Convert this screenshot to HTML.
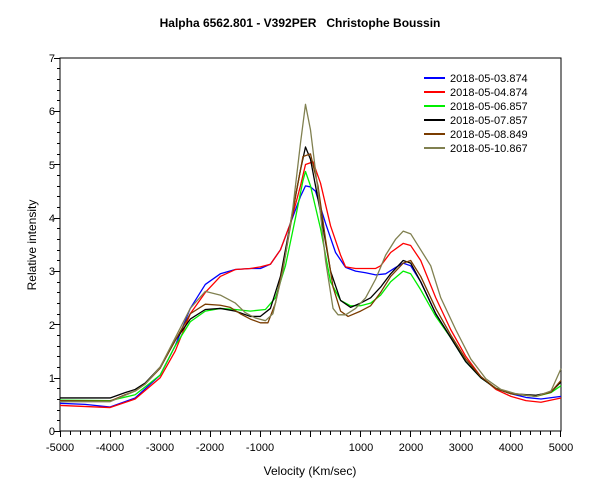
<!DOCTYPE html>
<html><head><meta charset="utf-8"><style>
html,body{margin:0;padding:0;background:#fff;}
svg{display:block;font-family:"Liberation Sans",Arial,sans-serif;}
</style></head><body>
<svg width="600" height="500" viewBox="0 0 600 500">
<rect width="600" height="500" fill="#fff"/>
<text x="300" y="27" font-size="12" font-weight="bold" text-anchor="middle" style="white-space:pre">Halpha 6562.801 - V392PER   Christophe Boussin</text>
<rect x="60" y="58" width="501" height="373" fill="none" stroke="#000" stroke-width="1"/>
<g font-size="11" text-anchor="end">
<text x="55" y="435">0</text><text x="55" y="382">1</text><text x="55" y="329">2</text><text x="55" y="275">3</text><text x="55" y="222">4</text><text x="55" y="169">5</text><text x="55" y="115">6</text><text x="55" y="62">7</text>
</g>
<g font-size="11" text-anchor="middle">
<text x="60" y="451">-5000</text><text x="110" y="451">-4000</text><text x="160" y="451">-3000</text><text x="210" y="451">-2000</text><text x="260" y="451">-1000</text><text x="361" y="451">1000</text><text x="411" y="451">2000</text><text x="461" y="451">3000</text><text x="511" y="451">4000</text><text x="561" y="451">5000</text>
</g>
<text x="310" y="475" font-size="12" text-anchor="middle">Velocity (Km/sec)</text>
<text transform="translate(36,245) rotate(-90)" font-size="12" text-anchor="middle">Relative intensity</text>
<g transform="translate(60,431) scale(0.0501,-53.29) translate(5000,0)" fill="none" stroke-width="1.3" stroke-linejoin="round">
<polyline vector-effect="non-scaling-stroke" stroke="#0000ff" points="-5000,0.52 -4500,0.5 -4000,0.45 -3500,0.62 -3000,1.05 -2700,1.6 -2400,2.3 -2100,2.75 -1800,2.95 -1500,3.03 -1200,3.05 -1000,3.05 -800,3.13 -600,3.4 -400,3.9 -200,4.4 -100,4.6 0,4.58 100,4.5 300,3.9 500,3.35 700,3.07 900,3.0 1100,2.97 1300,2.93 1500,2.95 1700,3.07 1850,3.15 2000,3.1 2200,2.8 2500,2.2 2800,1.75 3100,1.3 3400,1.0 3700,0.8 4000,0.7 4300,0.63 4600,0.6 5000,0.65"/>
<polyline vector-effect="non-scaling-stroke" stroke="#ff0000" points="-5000,0.48 -4000,0.44 -3500,0.6 -3000,1.0 -2700,1.5 -2400,2.2 -2100,2.6 -1800,2.9 -1500,3.03 -1200,3.05 -1000,3.08 -800,3.13 -600,3.4 -400,3.9 -200,4.6 -100,5.0 50,5.05 200,4.65 400,3.85 600,3.3 700,3.08 900,3.05 1100,3.05 1300,3.05 1400,3.1 1600,3.35 1850,3.52 2000,3.48 2200,3.2 2500,2.5 2800,1.9 3100,1.4 3400,1.02 3700,0.78 4000,0.65 4300,0.57 4600,0.54 5000,0.62"/>
<polyline vector-effect="non-scaling-stroke" stroke="#00ee00" points="-5000,0.58 -4000,0.57 -3500,0.68 -3000,1.05 -2700,1.6 -2400,2.05 -2100,2.25 -1800,2.3 -1500,2.28 -1200,2.25 -900,2.28 -700,2.5 -500,3.1 -300,4.0 -150,4.7 -100,4.87 0,4.6 200,3.8 400,2.8 600,2.45 800,2.35 1000,2.35 1200,2.4 1400,2.55 1600,2.8 1850,3.0 2000,2.95 2200,2.65 2500,2.15 2800,1.75 3100,1.3 3400,1.0 3700,0.8 4000,0.7 4500,0.65 4800,0.72 5000,0.85"/>
<polyline vector-effect="non-scaling-stroke" stroke="#000000" points="-5000,0.62 -4000,0.62 -3700,0.72 -3500,0.78 -3300,0.9 -3000,1.2 -2700,1.7 -2400,2.1 -2100,2.28 -1800,2.3 -1500,2.25 -1200,2.15 -1000,2.15 -800,2.3 -600,2.9 -400,3.9 -200,4.9 -100,5.33 0,5.1 200,4.1 400,3.0 600,2.45 800,2.32 1000,2.4 1200,2.5 1400,2.7 1600,2.95 1850,3.2 2000,3.15 2200,2.8 2500,2.2 2800,1.75 3100,1.3 3400,1.0 3700,0.8 4000,0.7 4500,0.67 4800,0.73 5000,0.92"/>
<polyline vector-effect="non-scaling-stroke" stroke="#7a3c00" points="-5000,0.57 -4000,0.56 -3700,0.68 -3500,0.75 -3300,0.88 -3000,1.18 -2700,1.7 -2400,2.2 -2100,2.38 -1800,2.36 -1600,2.32 -1400,2.2 -1200,2.1 -1000,2.03 -850,2.03 -700,2.4 -500,3.3 -300,4.4 -150,5.15 0,5.2 150,4.6 300,3.6 450,2.7 600,2.25 750,2.15 1000,2.25 1200,2.35 1400,2.6 1600,2.9 1850,3.15 2000,3.2 2200,2.9 2500,2.3 2800,1.8 3100,1.35 3400,1.02 3700,0.8 4000,0.7 4500,0.65 4800,0.73 5000,0.95"/>
<polyline vector-effect="non-scaling-stroke" stroke="#808050" points="-5000,0.55 -4000,0.55 -3700,0.67 -3500,0.75 -3300,0.88 -3000,1.2 -2700,1.75 -2400,2.3 -2100,2.62 -1800,2.55 -1500,2.4 -1300,2.22 -1100,2.12 -900,2.07 -750,2.2 -550,3.0 -350,4.2 -200,5.4 -100,6.13 0,5.65 150,4.5 300,3.2 450,2.3 550,2.18 700,2.18 900,2.3 1100,2.5 1300,2.85 1500,3.3 1700,3.6 1850,3.75 2000,3.7 2200,3.4 2400,3.1 2600,2.5 2900,1.9 3200,1.35 3500,0.98 3800,0.78 4100,0.7 4500,0.65 4800,0.75 5000,1.17"/>
</g>
<g stroke-width="2">
<line x1="424" y1="78" x2="445" y2="78" stroke="#0000ff"/>
<line x1="424" y1="92" x2="445" y2="92" stroke="#ff0000"/>
<line x1="424" y1="106" x2="445" y2="106" stroke="#00ee00"/>
<line x1="424" y1="120" x2="445" y2="120" stroke="#000"/>
<line x1="424" y1="134" x2="445" y2="134" stroke="#7a3c00"/>
<line x1="424" y1="148" x2="445" y2="148" stroke="#808050"/>
</g>
<g font-size="11">
<text x="450" y="82">2018-05-03.874</text>
<text x="450" y="96">2018-05-04.874</text>
<text x="450" y="110">2018-05-06.857</text>
<text x="450" y="124">2018-05-07.857</text>
<text x="450" y="138">2018-05-08.849</text>
<text x="450" y="152">2018-05-10.867</text>
</g>
<g stroke="#000" stroke-width="1">
<path d="M60.5,431V437M70.5,431V435M80.5,431V435M90.5,431V435M100.5,431V435M110.5,431V437M120.5,431V435M130.5,431V435M140.5,431V435M150.5,431V435M160.5,431V437M170.5,431V435M180.5,431V435M190.5,431V435M200.5,431V435M210.5,431V437M220.5,431V435M230.5,431V435M240.5,431V435M250.5,431V435M260.5,431V437M270.5,431V435M280.5,431V435M290.5,431V435M300.5,431V435M310.5,431V437M320.5,431V435M330.5,431V435M340.5,431V435M350.5,431V435M360.5,431V437M370.5,431V435M380.5,431V435M390.5,431V435M400.5,431V435M410.5,431V437M420.5,431V435M430.5,431V435M440.5,431V435M450.5,431V435M460.5,431V437M470.5,431V435M480.5,431V435M490.5,431V435M500.5,431V435M510.5,431V437M520.5,431V435M530.5,431V435M540.5,431V435M550.5,431V435M560.5,431V437"/>
<path d="M60,431.5H54M60,420.5H57M60,410.5H57M60,399.5H57M60,388.5H57M60,378.5H54M60,367.5H57M60,356.5H57M60,346.5H57M60,335.5H57M60,324.5H54M60,314.5H57M60,303.5H57M60,292.5H57M60,282.5H57M60,271.5H54M60,260.5H57M60,250.5H57M60,239.5H57M60,228.5H57M60,218.5H54M60,207.5H57M60,196.5H57M60,186.5H57M60,175.5H57M60,164.5H54M60,154.5H57M60,143.5H57M60,132.5H57M60,122.5H57M60,111.5H54M60,100.5H57M60,90.5H57M60,79.5H57M60,68.5H57M60,58.5H54"/>
</g>
</svg>
</body></html>
